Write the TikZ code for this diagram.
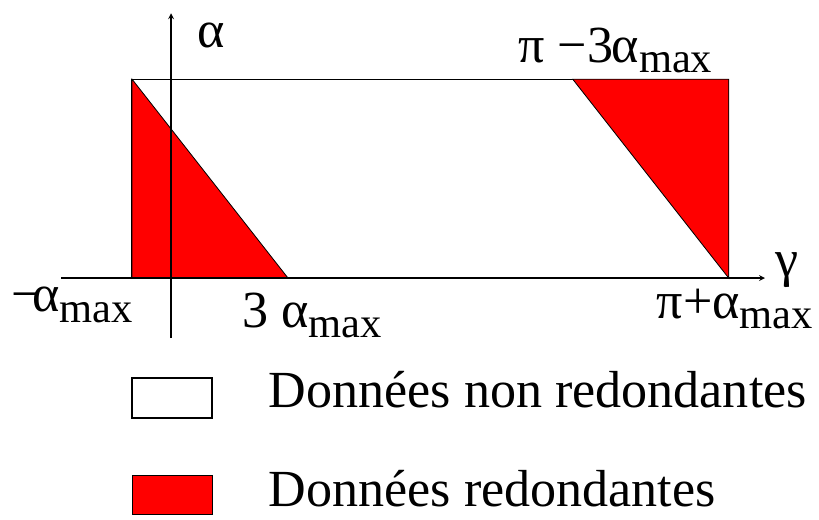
\documentclass[tikz,border=0pt]{standalone}
\usepackage{fontspec}
\setmainfont{Liberation Serif}
\newcommand{\amax}{α\raisebox{-7.3pt}{\fontsize{31}{36}\selectfont max}}
\begin{document}
\begin{tikzpicture}[
        lab/.style={inner sep=0pt, font=\fontsize{38}{45}\selectfont},
        axis/.style={->, >=stealth, line width=0.9pt},
        zone/.style={draw=black, line width=0.9pt},
        redzone/.style={fill=red, draw=black, line width=0.6pt}
    ]
        \useasboundingbox (-4.385,-6.18) rectangle (16.615,7.13);

        % Axes
        \coordinate (Gmin) at (-2.82,0);
        \coordinate (Gmax) at (15.23,0);
        \coordinate (Amin) at (0,-1.54);
        \coordinate (Amax) at (0,6.79);

        % Domain (gamma from -amax to pi+amax)
        \draw[zone] (-1,0) rectangle (14.3,5.1);

        % Redundant triangles
        \draw[redzone] (-1,0) -- (-1,5.1) -- (3,0) -- cycle;
        \draw[redzone] (10.3,5.1) -- (14.3,5.1) -- (14.3,0) -- cycle;

        \draw[axis] (Gmin) -- (Gmax);
        \draw[axis] (Amin) -- (Amax);

        % Axis labels
        \node[lab, anchor=base] (alpha) at (1.03,5.9) {α};
        \node[lab, anchor=base west] (gamma) at (15.5,0.05) {γ};
        \node[lab, anchor=base west] (top) at (8.9,5.54) {π −3\kern-1pt\amax};
        \node[lab, anchor=base west] (left) at (-4.1,-0.87) {−\kern-6pt\amax};
        \node[lab, anchor=base west] (mid) at (1.82,-1.26) {3 \amax};
        \node[lab, anchor=base west] (right) at (12.45,-1.03) {π+\amax};

        % Legend
        \draw[zone] (-1,-2.56) rectangle (1.05,-3.59);
        \draw[redzone] (-1,-5.05) rectangle (1.05,-6.05);
        \node[lab, anchor=base west] (nonred) at (2.5,-3.31) {Données non redondantes};
        \node[lab, anchor=base west] (red) at (2.5,-5.86) {Données redondantes};
    \end{tikzpicture}
\end{document}
